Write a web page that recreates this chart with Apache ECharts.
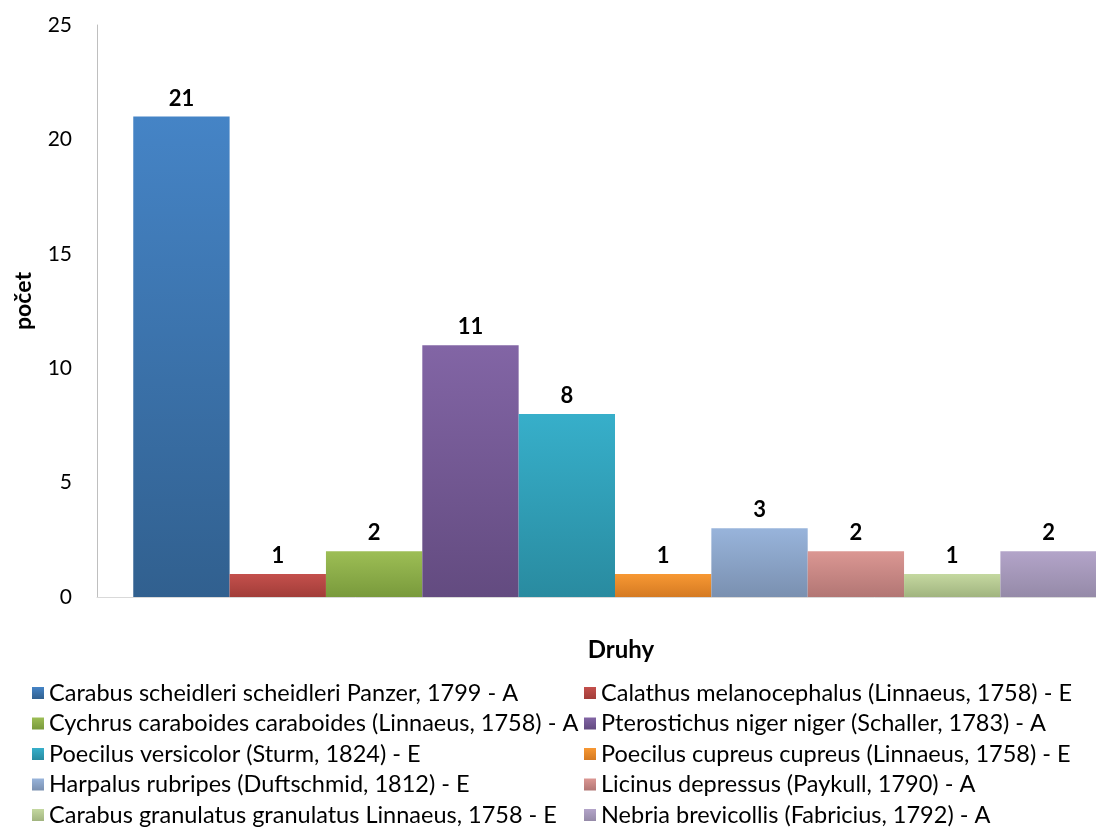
<!DOCTYPE html>
<html>
<head>
<meta charset="utf-8">
<script src="https://cdn.jsdelivr.net/npm/echarts@6/dist/echarts.min.js"></script>
<style>
  html, body { margin: 0; padding: 0; background: #fff; overflow: hidden; }
  /* the plot runs past the right edge of the page, so the last bar is cut */
  #chart { width: 1133px; height: 827px; }
</style>
</head>
<body>
<div id="chart"></div>
<script>
// Species of ground beetles and their counts
const species = [
  'Carabus scheidleri scheidleri Panzer, 1799 - A',
  'Calathus melanocephalus (Linnaeus, 1758) - E',
  'Cychrus caraboides caraboides (Linnaeus, 1758) - A',
  'Pterostichus niger niger (Schaller, 1783) - A',
  'Poecilus versicolor (Sturm, 1824) - E',
  'Poecilus cupreus cupreus (Linnaeus, 1758) - E',
  'Harpalus rubripes (Duftschmid, 1812) - E',
  'Licinus depressus (Paykull, 1790) - A',
  'Carabus granulatus granulatus Linnaeus, 1758 - E',
  'Nebria brevicollis (Fabricius, 1792) - A'
];
const counts = [21, 1, 2, 11, 8, 1, 3, 2, 1, 2];
const yTicks = [0, 5, 10, 15, 20, 25];

// top / bottom shades of each bar's vertical gradient
const topColors = ['#4584C6', '#C4504C', '#9DBE55', '#8265A5', '#37AFCA', '#F79833', '#98B4DB', '#DB9793', '#C4D8A0', '#B3A4C9'];
const bottomColors = ['#31608F', '#A23D39', '#799A3C', '#634B80', '#298BA0', '#D57A22', '#7A90B0', '#B27674', '#A1B47F', '#958AA8'];

const FONT = 'Lato, "Open Sans", "DejaVu Sans", sans-serif';

const series = species.map((name, i) => ({
  name: name,
  type: 'bar',
  barGap: 0,
  barCategoryGap: '7%',
  data: [counts[i]],
  itemStyle: {
    color: {
      type: 'linear', x: 0, y: 0, x2: 0, y2: 1,
      colorStops: [
        { offset: 0, color: topColors[i] },
        { offset: 1, color: bottomColors[i] }
      ]
    }
  },
  label: {
    show: true,
    position: 'top',
    distance: 7,
    color: '#000',
    fontFamily: FONT,
    fontWeight: 'bold',
    fontSize: 22
  }
}));

const legendCommon = {
  type: 'plain',
  orient: 'vertical',
  top: 676,
  height: 300,
  icon: 'rect',
  itemWidth: 12,
  itemHeight: 12,
  itemGap: 6.5,
  textStyle: { fontFamily: FONT, fontSize: 23.5, color: '#000', lineHeight: 24 }
};

const chart = echarts.init(document.getElementById('chart'), null, { renderer: 'canvas' });
chart.setOption({
  backgroundColor: '#fff',
  animation: false,
  grid: { left: 97, right: 0, top: 25, height: 572 },
  legend: [
    Object.assign({}, legendCommon, { left: 27, data: species.filter((_, i) => i % 2 === 0) }),
    Object.assign({}, legendCommon, { left: 579, data: species.filter((_, i) => i % 2 === 1) })
  ],
  xAxis: {
    type: 'category',
    data: [''],
    name: 'Druhy',
    nameLocation: 'middle',
    nameGap: 41,
    nameTextStyle: { fontFamily: FONT, fontWeight: 'bold', fontSize: 24, color: '#000', padding: [0, 0, 0, 12] },
    axisLine: { lineStyle: { color: '#D9D9D9', width: 1 } },
    axisTick: { show: false },
    axisLabel: { show: false }
  },
  yAxis: {
    type: 'value',
    min: yTicks[0],
    max: yTicks[yTicks.length - 1],
    interval: yTicks[1] - yTicks[0],
    name: 'počet',
    nameLocation: 'middle',
    nameGap: 62,
    nameTextStyle: { fontFamily: FONT, fontWeight: 'bold', fontSize: 23, color: '#000', padding: [0, 0, 0, 20] },
    axisLine: { show: true, lineStyle: { color: '#BFBFBF', width: 1 } },
    axisTick: { show: false },
    splitLine: { show: false },
    axisLabel: { fontFamily: FONT, fontSize: 21, color: '#000', margin: 25 }
  },
  series: series
});
</script>
</body>
</html>
